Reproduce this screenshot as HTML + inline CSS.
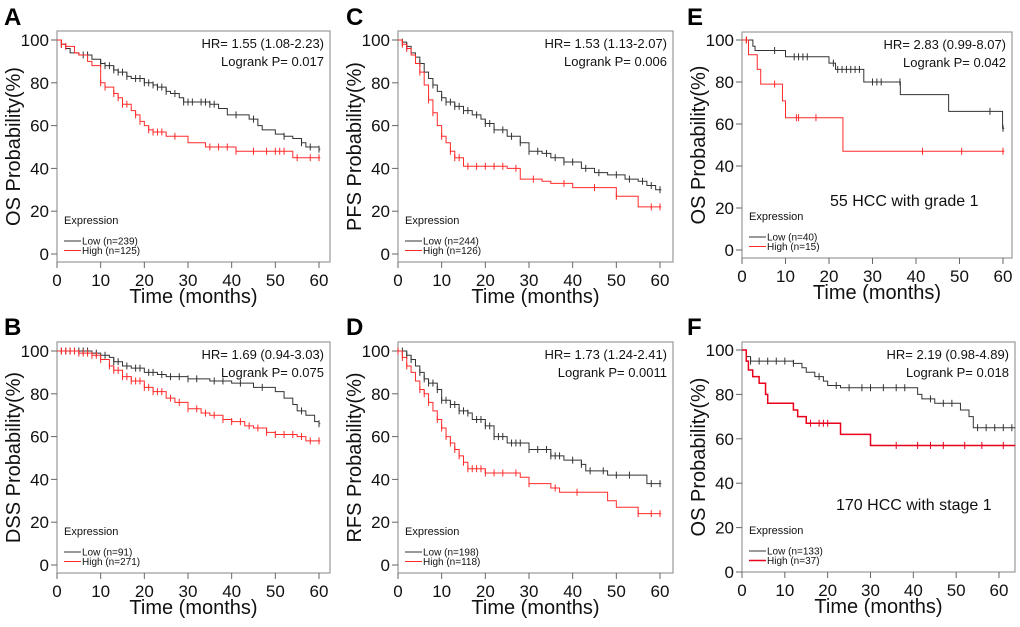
<!DOCTYPE html>
<html><head><meta charset="utf-8"><style>
html,body{margin:0;padding:0;background:#fff;}
svg{display:block;font-family:"Liberation Sans",Arial,sans-serif;}
</style></head><body>
<svg id="fig" width="1020" height="627" viewBox="0 0 1020 627"></svg>
<script>
// ---- data (time in months, survival %) ----
const xTicks = [0,10,20,30,40,50,60];
const yTicks = [0,20,40,60,80,100];

const aLowT = [0,1,2,3,5,8,10,11,13,14,16,17,20,22,23,25,26,28,29,35,37,39,44,46,47,50,52,54,56,57,60];
const aLowS = [100,98,96,94,93,91,89,88,86,85,83,82,80,79,78,76,75,73,71,70,68,65,63,60,58,56,55,54,52,50,49];
const aHighT = [0,1,2,4,5,7,8,10,11,13,14,15,17,18,19,20,21,22,25,30,34,41,54];
const aHighS = [100,98,97,94,93,90,88,80,78,75,73,70,67,65,62,60,58,57,55,52,50,48,45];
const aLowC = [1,6,7,10,11,12,13,14,15,16,18,19,20,21,22,23,24,25,27,29,30,31,33,34,35,36,41,45,52,56,58,60];
const aHighC = [1,2,10,11,13,14,15,16,18,19,21,22,23,24,27,35,37,39,41,45,48,50,51,52,55,58,60];

const cLowT = [0,1,2,3,4,5,6,7,8,9,10,11,13,15,17,19,20,22,25,28,30,33,35,38,42,45,48,52,55,57,59];
const cLowS = [100,99,97,94,92,89,85,82,79,76,73,71,69,67,65,63,61,58,55,52,48,47,45,43,40,38,37,35,34,32,30];
const cHighT = [0,1,2,3,4,5,6,7,8,9,10,11,12,13,15,25,28,33,35,40,50,55];
const cHighS = [100,98,96,93,89,85,79,72,66,60,55,52,48,45,41,40,35,34,33,31,27,22];
const cLowC = [1,2,5,8,10,11,12,13,14,15,16,18,20,21,22,24,26,28,30,32,34,36,38,40,43,46,50,53,56,58,60];
const cHighC = [1,2,5,7,8,10,12,13,14,16,18,20,22,24,27,31,38,45,50,58,60];

const bLowT = [0,8,10,12,13,15,17,20,23,25,30,35,40,45,50,52,54,55,57,59,60];
const bLowS = [100,99,98,97,95,93,92,90,89,88,87,86,85,83,81,78,75,72,70,67,66];
const bHighT = [0,5,8,10,12,13,15,17,20,22,25,27,30,33,35,38,40,43,45,48,50,55,57];
const bHighS = [100,99,98,96,93,91,88,86,83,81,78,76,73,71,70,68,67,65,64,62,61,60,58];
const bLowC = [1,2,3,4,5,6,7,9,11,13,14,16,18,19,21,22,24,26,28,30,32,36,38,42,47,56,60];
const bHighC = [1,2,3,4,5,6,7,8,9,10,12,13,14,15,16,17,18,19,20,21,22,23,24,26,28,30,32,34,36,38,40,42,44,46,48,50,52,54,56,58,60];

const dLowT = [0,2,3,4,5,6,7,9,10,12,14,16,17,20,22,25,30,35,38,42,43,48,57];
const dLowS = [100,98,96,93,90,87,85,82,77,75,72,71,68,65,60,57,54,51,49,47,44,42,38];
const dHighT = [0,1,2,3,4,5,6,7,8,9,10,11,12,13,14,15,16,20,28,30,35,37,48,50,55];
const dHighS = [100,97,93,90,86,82,80,76,72,68,64,60,57,54,51,48,45,43,41,38,36,34,30,27,24];
const dLowC = [1,2,3,5,6,7,8,9,10,11,12,13,14,15,16,18,19,20,21,22,23,24,26,27,28,30,32,34,35,36,37,40,42,44,47,50,53,58,60];
const dHighC = [0,1,2,5,6,7,9,10,11,12,13,14,15,16,17,18,19,20,22,24,27,30,36,41,55,58,60];

const eLowT = [0,2.5,3,10,20,21.5,28,36.4,47.5,59.9];
const eLowS = [100,97,95,92,89,86,80,74,66,58];
const eHighT = [0,1.5,3.5,4.3,9.3,10,23.2];
const eHighS = [100,93,86,79,71,63,47];
const eLowC = [1,7.5,12,13,14,15,21,22,23,24,25,26,27,30,31,32,36.3,57,60];
const eHighC = [1,7.5,12.5,13,17,41.5,50.5,60];

const fLowT = [0,1,2,12,14,15,17,19,20,23,40,41,42,45,51,53,54];
const fLowS = [100,97,95,94,92,90,88,86,84,83,83,80,78,76,73,70,65];
const fHighT = [0,1,1.5,2.5,4,5.5,6,12,13,15,23,30];
const fHighS = [100,95,91,88,85,80,76,73,70,67,62,57];
const fLowC = [2,4,6,8,10,12,18,22,25,28,30,33,36,38,44,47,49,55,57,59,61,63];
const fHighC = [16,18,19,20,36,41,44,47,52,56,61];

const panels = [
 {id:'a',letter:'A',lx:4,ly:25,x0:57,x60:319,bl:57,br:330,bt:31,bb:262,y100:40,y0:254,tmax:60.3,ylab:'OS Probability(%)',hr:'HR= 1.55 (1.08-2.23)',lp:'Logrank P= 0.017',lowN:'Low (n=239)',highN:'High (n=125)',lt:aLowT,ls:aLowS,ht:aHighT,hs:aHighS,lc:aLowC,hc:aHighC},
 {id:'c',letter:'C',lx:346,ly:25,x0:398,x60:660,bl:398,br:673,bt:31,bb:262,y100:40,y0:254,tmax:60.3,ylab:'PFS Probability(%)',hr:'HR= 1.53 (1.13-2.07)',lp:'Logrank P= 0.006',lowN:'Low (n=244)',highN:'High (n=126)',lt:cLowT,ls:cLowS,ht:cHighT,hs:cHighS,lc:cLowC,hc:cHighC},
 {id:'e',letter:'E',lx:687,ly:25,x0:742,x60:1003,bl:742,br:1012,bt:32,bb:258,y100:40,y0:250,tmax:60.3,ylab:'OS Probability(%)',hr:'HR= 2.83 (0.99-8.07)',lp:'Logrank P= 0.042',lowN:'Low (n=40)',highN:'High (n=15)',lt:eLowT,ls:eLowS,ht:eHighT,hs:eHighS,lc:eLowC,hc:eHighC,note:'55 HCC with grade 1',nx:830,ny:206},
 {id:'b',letter:'B',lx:4,ly:335,x0:57,x60:319,bl:57,br:330,bt:342,bb:573,y100:351,y0:565,tmax:60.3,ylab:'DSS Probability(%)',hr:'HR= 1.69 (0.94-3.03)',lp:'Logrank P= 0.075',lowN:'Low (n=91)',highN:'High (n=271)',lt:bLowT,ls:bLowS,ht:bHighT,hs:bHighS,lc:bLowC,hc:bHighC},
 {id:'d',letter:'D',lx:346,ly:335,x0:398,x60:660,bl:398,br:673,bt:342,bb:573,y100:351,y0:565,tmax:60.3,ylab:'RFS Probability(%)',hr:'HR= 1.73 (1.24-2.41)',lp:'Logrank P= 0.0011',lowN:'Low (n=198)',highN:'High (n=118)',lt:dLowT,ls:dLowS,ht:dHighT,hs:dHighS,lc:dLowC,hc:dHighC},
 {id:'f',letter:'F',lx:687,ly:335,x0:742,x60:999,bl:742,br:1015,bt:342,bb:572,y100:350,y0:572,tmax:63.8,ylab:'OS Probability(%)',hr:'HR= 2.19 (0.98-4.89)',lp:'Logrank P= 0.018',lowN:'Low (n=133)',highN:'High (n=37)',lt:fLowT,ls:fLowS,ht:fHighT,hs:fHighS,lc:fLowC,hc:fHighC,note:'170 HCC with stage 1',nx:836,ny:510,strongRed:true}
];

const NS='http://www.w3.org/2000/svg';
const svg=document.getElementById('fig');
function mk(tag,attrs,parent,text){const e=document.createElementNS(NS,tag);for(const k in attrs)e.setAttribute(k,attrs[k]);if(text!==undefined)e.textContent=text;(parent||svg).appendChild(e);return e;}
function stepVal(T,S,t){let v=S[0];for(let i=0;i<T.length;i++){if(T[i]<=t)v=S[i];}return v;}

panels.forEach(p=>{
  const sx=t=>p.x0+(p.x60-p.x0)*t/60;
  const sy=s=>p.y0+(p.y100-p.y0)*s/100;
  const g=mk('g',{});
  
  
  const L=mk('text',{x:p.lx,y:p.ly,'font-size':24,'font-weight':'bold',fill:'#000'},g,p.letter);
  
  
  const box=mk('rect',{x:p.bl,y:p.bt,width:p.br-p.bl,height:p.bb-p.bt,fill:'none',stroke:'#999','stroke-width':1.2},g);
  
  
  yTicks.forEach(v=>{
    const y=sy(v);
    mk('line',{x1:p.bl-6,x2:p.bl,y1:y,y2:y,stroke:'#666'},g);
    const t=mk('text',{x:p.bl-8,y:y+6,'font-size':17,'text-anchor':'end',fill:'#111'},g,String(v));
    
    
  });
  xTicks.forEach(v=>{
    const x=sx(v);
    mk('line',{x1:x,x2:x,y1:p.bb,y2:p.bb+6,stroke:'#666'},g);
    const t=mk('text',{x:x,y:p.bb+24,'font-size':17,'text-anchor':'middle',fill:'#111'},g,String(v));
    
    
  });
  const xt=mk('text',{x:(p.bl+p.br)/2,y:p.bb+41,'font-size':20,'text-anchor':'middle',fill:'#111'},g,'Time (months)');
  
  
  const yc=(p.bt+p.bb)/2, yx=p.bl-37;
  const yt=mk('text',{x:yx,y:yc,'font-size':20,'text-anchor':'middle',fill:'#111',transform:`rotate(-90 ${yx} ${yc})`},g,p.ylab);
  
  
  const h1=mk('text',{x:p.br-6,y:p.bt+17,'font-size':13,'text-anchor':'end',fill:'#111'},g,p.hr);
  
  
  const h2=mk('text',{x:p.br-6,y:p.bt+35,'font-size':13,'text-anchor':'end',fill:'#111'},g,p.lp);
  
  
  if(p.note){
    const n=mk('text',{x:p.nx,y:p.ny,'font-size':16,fill:'#111'},g,p.note);
    
    
  }
  const redC=p.strongRed?'#e8001c':'#ff2a2a';
  const series=[{T:p.lt,S:p.ls,C:p.lc,col:'#333',w:1,name:'low'},{T:p.ht,S:p.hs,C:p.hc,col:redC,w:p.strongRed?1.5:1,name:'high'}];
  series.forEach(sr=>{
    let d=`M${sx(sr.T[0])},${sy(sr.S[0])}`;
    for(let i=1;i<sr.T.length;i++){d+=` H${sx(sr.T[i])} V${sy(sr.S[i])}`;}
    d+=` H${sx(p.tmax)}`;
    const path=mk('path',{d:d,fill:'none',stroke:sr.col,'stroke-width':sr.w},g);
    
    
    sr.C.forEach(t=>{
      const x=sx(t),y=sy(stepVal(sr.T,sr.S,t));
      const m=mk('line',{x1:x,x2:x,y1:y-3.5,y2:y+3.5,stroke:sr.col,'stroke-width':1},g);
      
      
    });
  });
  const lgY=p.bb-38;
  const le=mk('text',{x:p.bl+7,y:lgY,'font-size':11,fill:'#111'},g,'Expression');
  
  
  [[p.lowN,'#333',1],[p.highN,redC,p.strongRed?1.5:1]].forEach((it,i)=>{
    const y=lgY+17+i*9.5;
    mk('line',{x1:p.bl+7,x2:p.bl+24,y1:y,y2:y,stroke:it[1],'stroke-width':it[2]},g);
    const tx=mk('text',{x:p.bl+25,y:y+3.5,'font-size':10,fill:'#111'},g,it[0]);
    
    
  });
});
</script>
</body></html>
